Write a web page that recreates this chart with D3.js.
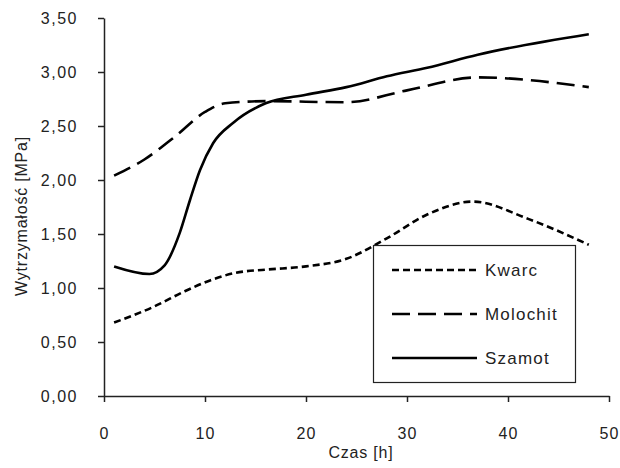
<!DOCTYPE html>
<html>
<head>
<meta charset="utf-8">
<script src="https://cdn.jsdelivr.net/npm/d3@7"></script>
<style>
  body { margin: 0; background: #fff; }
  text { font-family: "Liberation Sans", Arial, sans-serif; fill: #222; }
</style>
</head>
<body>
<div id="chart"></div>
<script>
// values (time in hours, strength in MPa)
const kwarcT = [1, 5, 8, 10.5, 13, 16, 20, 24, 28, 32, 36.5, 42, 48];
const kwarcV = [0.68, 0.83, 0.97, 1.07, 1.14, 1.17, 1.20, 1.27, 1.46, 1.68, 1.80, 1.64, 1.40];

const molochitT = [1, 4, 7, 10, 12, 16, 24, 30, 37, 48];
const molochitV = [2.04, 2.19, 2.40, 2.63, 2.71, 2.73, 2.72, 2.83, 2.95, 2.86];

const szamotT = [1, 4.5, 6, 7.5, 8.5, 9.5, 10.8, 12.8, 16, 20, 24, 28, 32, 37, 48];
const szamotV = [1.20, 1.13, 1.21, 1.51, 1.81, 2.09, 2.34, 2.53, 2.71, 2.79, 2.86, 2.96, 3.04, 3.16, 3.35];

const seriesNames = ["Kwarc", "Molochit", "Szamot"];
const xTicks = [0, 10, 20, 30, 40, 50];
const yTicks = [0, 0.5, 1, 1.5, 2, 2.5, 3, 3.5];

const W = 620, H = 468;
const margin = {top: 18, right: 11, bottom: 72, left: 104};

const svg = d3.select("#chart").append("svg")
    .attr("width", W)
    .attr("height", H);

const x = d3.scaleLinear().domain([0, 50]).range([margin.left, W - margin.right]);
const y = d3.scaleLinear().domain([0, 3.5]).range([H - margin.bottom, margin.top]);

const fmt = d => d.toFixed(2).replace(".", ",");

// y axis
const yAxis = svg.append("g")
    .attr("transform", `translate(${margin.left},0)`)
    .call(d3.axisLeft(y).tickValues(yTicks).tickSize(6).tickSizeOuter(0).tickFormat(fmt).tickPadding(20));
yAxis.select(".domain").attr("stroke", "#222").attr("stroke-width", 1.5);
yAxis.selectAll(".tick line").attr("stroke", "#222").attr("stroke-width", 1.5);
yAxis.selectAll(".tick text")
    .attr("font-size", 16)
    .attr("letter-spacing", 1.5)
    .attr("fill", "#333")
    .attr("font-family", "Liberation Sans, Arial, sans-serif");

// x axis
const xAxis = svg.append("g")
    .attr("transform", `translate(0,${H - margin.bottom})`)
    .call(d3.axisBottom(x).tickValues(xTicks).tickSize(6).tickSizeOuter(0).tickFormat(d3.format("d")).tickPadding(26));
xAxis.select(".domain").attr("stroke", "#222").attr("stroke-width", 1.5);
xAxis.selectAll(".tick line").attr("stroke", "#222").attr("stroke-width", 1.5);
xAxis.selectAll(".tick text")
    .attr("font-size", 16)
    .attr("letter-spacing", 1)
    .attr("fill", "#333")
    .attr("font-family", "Liberation Sans, Arial, sans-serif");

// axis titles
svg.append("text")
    .attr("x", 361)
    .attr("y", 458)
    .attr("text-anchor", "middle")
    .attr("font-size", 16)
    .attr("letter-spacing", 0.8)
    .text("Czas [h]");

svg.append("text")
    .attr("transform", "translate(27,216) rotate(-90)")
    .attr("text-anchor", "middle")
    .attr("font-size", 16)
    .attr("letter-spacing", 0.8)
    .text("Wytrzymałość [MPa]");

// lines
const dashes = {"Kwarc": "7,4", "Molochit": "18,8", "Szamot": null};
const series = [
    {name: "Kwarc", values: kwarcT.map((t, i) => [t, kwarcV[i]])},
    {name: "Molochit", values: molochitT.map((t, i) => [t, molochitV[i]])},
    {name: "Szamot", values: szamotT.map((t, i) => [t, szamotV[i]])}
];

const line = d3.line()
    .x(d => x(d[0]))
    .y(d => y(d[1]))
    .curve(d3.curveMonotoneX);

svg.selectAll(".series")
    .data(series)
    .enter()
    .append("path")
    .attr("class", "series")
    .attr("d", d => line(d.values))
    .attr("fill", "none")
    .attr("stroke", "#000")
    .attr("stroke-width", 2.6)
    .attr("stroke-dasharray", d => dashes[d.name]);

// legend
const legend = svg.append("g");
legend.append("rect")
    .attr("x", 373.5)
    .attr("y", 245.5)
    .attr("width", 202)
    .attr("height", 137)
    .attr("fill", "#fff")
    .attr("stroke", "#222")
    .attr("stroke-width", 1.2);

const legendY = d3.scalePoint().domain(seriesNames).range([270, 358]);

seriesNames.forEach(name => {
    legend.append("line")
        .attr("x1", 392)
        .attr("x2", 477)
        .attr("y1", legendY(name))
        .attr("y2", legendY(name))
        .attr("stroke", "#000")
        .attr("stroke-width", 2.6)
        .attr("stroke-dasharray", dashes[name]);
    legend.append("text")
        .attr("x", 485)
        .attr("y", legendY(name))
        .attr("dy", "0.36em")
        .attr("font-size", 17)
        .attr("letter-spacing", 1.2)
        .text(name);
});
</script>
</body>
</html>
